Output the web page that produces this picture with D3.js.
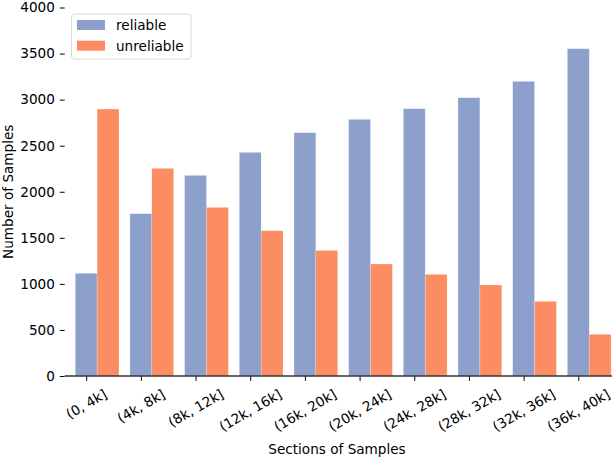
<!DOCTYPE html>
<html>
<head>
<meta charset="utf-8">
<script src="https://cdn.jsdelivr.net/npm/d3@7"></script>
<style>
  body { margin: 0; background: #fff; }
  svg text { font-family: "DejaVu Sans", sans-serif; fill: #000; }
</style>
</head>
<body>
<div id="chart"></div>
<script>
// chart data
const sections = ["(0, 4k]", "(4k, 8k]", "(8k, 12k]", "(12k, 16k]", "(16k, 20k]",
    "(20k, 24k]", "(24k, 28k]", "(28k, 32k]", "(32k, 36k]", "(36k, 40k]"];
const reliable = [1115, 1762, 2178, 2428, 2641, 2786, 2901, 3021, 3199, 3553];
const unreliable = [2898, 2254, 1831, 1577, 1364, 1216, 1104, 988, 811, 453];
const yTicks = [0, 500, 1000, 1500, 2000, 2500, 3000, 3500, 4000];
const seriesNames = ["reliable", "unreliable"];

const W = 612, H = 458;
const left = 64.7;
const fontSize = 13.6;
const colors = { reliable: "#8da0cb", unreliable: "#fc8d62" };

const svg = d3.select("#chart").append("svg")
    .attr("width", W)
    .attr("height", H);

// scales
const x = d3.scalePoint()
    .domain(sections)
    .range([86.2, 578.3]);
const step = x.step();
const barW = step * 0.4;

const y = d3.scaleLinear()
    .domain([0, 4000])
    .range([376, 7.5]);

// bars
const rows = sections.map((s, i) => ({ section: s, reliable: reliable[i], unreliable: unreliable[i] }));

svg.append("g").selectAll("rect")
    .data(rows)
    .join("rect")
    .attr("x", d => x(d.section) - barW / 2)
    .attr("y", d => y(d.reliable))
    .attr("width", barW)
    .attr("height", d => y(0) - y(d.reliable))
    .attr("fill", colors.reliable)
    .attr("stroke", "#fff")
    .attr("stroke-opacity", 0.4)
    .attr("stroke-width", 0.6);

svg.append("g").selectAll("rect")
    .data(rows)
    .join("rect")
    .attr("x", d => x(d.section) + barW / 2)
    .attr("y", d => y(d.unreliable))
    .attr("width", barW)
    .attr("height", d => y(0) - y(d.unreliable))
    .attr("fill", colors.unreliable)
    .attr("stroke", "#fff")
    .attr("stroke-opacity", 0.4)
    .attr("stroke-width", 0.6);

// y axis (no spine)
const yAxis = svg.append("g")
    .attr("transform", `translate(${left},0)`)
    .call(d3.axisLeft(y).tickValues(yTicks).tickSize(4.9).tickPadding(4.9).tickFormat(d3.format("d")));
yAxis.select(".domain").remove();
yAxis.selectAll(".tick line").attr("stroke", "#000").attr("stroke-width", 1);
yAxis.selectAll(".tick text").style("font-size", fontSize + "px").attr("fill", "#000");

// x axis
const xAxis = svg.append("g")
    .attr("transform", `translate(0,${y(0)})`)
    .call(d3.axisBottom(x).tickSize(4.9).tickPadding(4.9));
xAxis.select(".domain").remove();
xAxis.selectAll(".tick line").attr("stroke", "#000").attr("stroke-width", 1);
// rotated labels, box of each label centred on its tick
xAxis.selectAll(".tick text")
    .style("font-size", fontSize + "px")
    .attr("fill", "#000")
    .attr("text-anchor", "end")
    .attr("dy", null)
    .attr("y", 0)
    .attr("transform", function () {
        const len = this.getComputedTextLength();
        const dx = len * 0.433 + 2.1;
        return `translate(${dx},21) rotate(-30)`;
    });

// bottom spine
svg.append("line")
    .attr("x1", left).attr("x2", W)
    .attr("y1", y(0)).attr("y2", y(0))
    .attr("stroke", "#333")
    .attr("stroke-width", 1.3);

// axis labels
svg.append("text")
    .attr("x", 337)
    .attr("y", 454)
    .attr("text-anchor", "middle")
    .style("font-size", fontSize + "px")
    .text("Sections of Samples");

svg.append("text")
    .attr("transform", `translate(13,${(y(0) + y(4000)) / 2}) rotate(-90)`)
    .attr("text-anchor", "middle")
    .style("font-size", fontSize + "px")
    .text("Number of Samples");

// legend
const legend = svg.append("g");
legend.append("rect")
    .attr("x", 71.5).attr("y", 14)
    .attr("width", 119.5).attr("height", 45)
    .attr("rx", 3)
    .attr("fill", "#fff")
    .attr("fill-opacity", 0.8)
    .attr("stroke", "#d9d9d9")
    .attr("stroke-width", 1);

seriesNames.forEach((name, i) => {
    legend.append("rect")
        .attr("x", 77).attr("y", 20 + i * 20.7)
        .attr("width", 28).attr("height", 10)
        .attr("fill", colors[name]);
    legend.append("text")
        .attr("x", 116).attr("y", 30 + i * 20.7)
        .style("font-size", fontSize + "px")
        .text(name);
});
</script>
</body>
</html>
